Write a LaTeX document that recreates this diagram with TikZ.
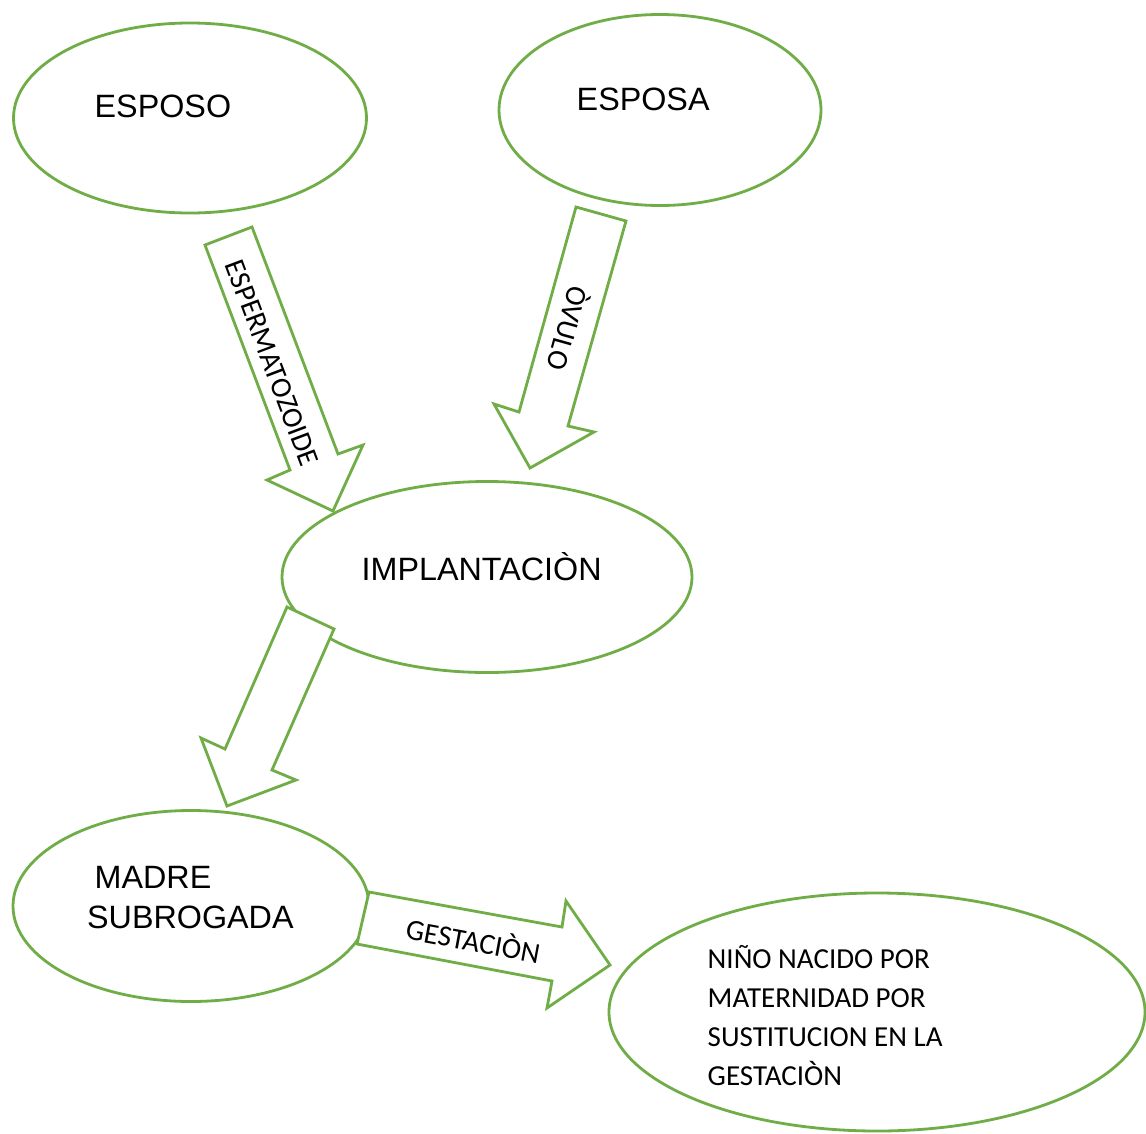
\documentclass[tikz,border=0pt]{standalone}
\usepackage{fontspec}
\setmainfont{Liberation Sans}
\newfontfamily\calib{Carlito}
\usetikzlibrary{shapes.geometric}
\definecolor{lgreen}{HTML}{70AD47}
\begin{document}
\begin{tikzpicture}[x=1pt,y=-1pt,
  bubble/.style={draw=lgreen, line width=2.8pt, ellipse, fill=white, inner sep=0pt},
  blockarrow/.style={draw=lgreen, line width=2.8pt, fill=white, line join=miter},
  etxt/.style={font=\fontsize{32.3}{38}\selectfont, anchor=base west, inner sep=0pt},
  atxt/.style={font=\calib\fontsize{29.3}{34}\selectfont, inner sep=0pt, text height=18.5pt, text depth=0pt},
  ntxt/.style={font=\calib\fontsize{29}{38.7}\selectfont, inner sep=0pt, align=left, anchor=base west}]

\useasboundingbox (0,0) rectangle (1146,1133);
\clip (0,0) rectangle (1146,1133);
\fill[white] (0,0) rectangle (1146,1133);

% ellipses
\node[bubble, minimum width=353pt, minimum height=190pt] (esposo) at (190,118) {};
\node[bubble, minimum width=322pt, minimum height=191pt] (esposa) at (660,110) {};
\node[bubble, minimum width=410pt, minimum height=191pt] (implant) at (487,577) {};
\node[bubble, minimum width=356pt, minimum height=191pt] (madre) at (191,906) {};
\node[bubble, minimum width=536pt, minimum height=238pt] (nino) at (877,1012) {};

% block arrows
\draw[blockarrow] (205,245) -- (252,227) -- (338,454) -- (363,445) -- (333,511) -- (267,480) -- (290,470) -- cycle;
\draw[blockarrow] (576,207) -- (626,221) -- (568,426) -- (594,432) -- (530,468) -- (494,404) -- (519,412) -- cycle;
\draw[blockarrow] (287,607) -- (334,629) -- (272,770) -- (296,780) -- (227,806) -- (201,738) -- (225,749) -- cycle;
\draw[blockarrow] (369,892) -- (562,927) -- (566,901) -- (610,965) -- (547,1008) -- (552,981) -- (357,944) -- cycle;

% ellipse texts
\node[etxt] (tesposo) at (94.5,117) {ESPOSO};
\node[etxt] (tesposa) at (576.5,110) {ESPOSA};
\node[etxt] (timplant) at (361.5,580) {IMPLANTACIÒN};
\node[etxt] (tmadre1) at (94.5,888) {MADRE};
\node[etxt] (tmadre2) at (87,928) {SUBROGADA};
\node[ntxt] (tnino) at (707.5,1085) {NIÑO NACIDO POR\\MATERNIDAD POR\\SUSTITUCION EN LA\\GESTACIÒN};

% arrow labels
\node[atxt, rotate=-69.3] (lesperm) at (272,363) {ESPERMATOZOIDE};
\node[atxt, rotate=-105.6] (lovulo) at (567,328) {ÒVULO};
\node[atxt, rotate=-10.5] (lgest) at (473,942) {GESTACIÒN};
\end{tikzpicture}
\end{document}
